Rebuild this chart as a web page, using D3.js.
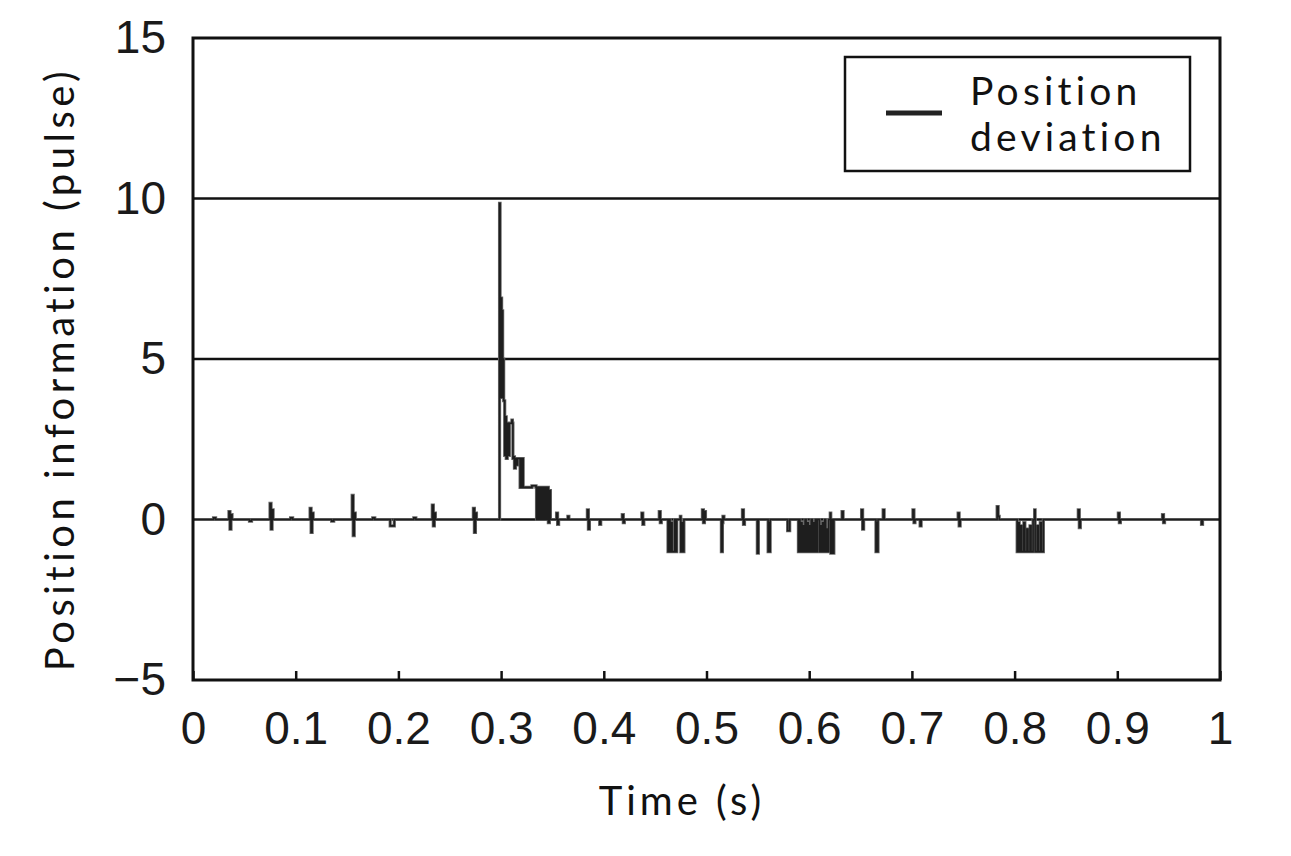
<!DOCTYPE html>
<html>
<head>
<meta charset="utf-8">
<script src="https://cdn.jsdelivr.net/npm/d3@7"></script>
<style>
  body { margin: 0; background: #fff; }
  .tick text { font-family: "Liberation Sans", Arial, sans-serif; fill: #1a1a1a; }
  .title { font-family: Lato, "Noto Sans", sans-serif; fill: #111; }
</style>
</head>
<body>
<div id="chart"></div>
<script>
var svgWidth = 1291;
var svgHeight = 856;

var margin = { top: 38, right: 71, bottom: 176, left: 193 };
var width = svgWidth - margin.left - margin.right;
var height = svgHeight - margin.top - margin.bottom;

// Tick values / labels
var xTicks = [0, 0.1, 0.2, 0.3, 0.4, 0.5, 0.6, 0.7, 0.8, 0.9, 1];
var yTicks = [-5, 0, 5, 10, 15];
var gridValues = [0, 5, 10];
var legendLines = ["Position", "deviation"];

// Position deviation trace: [time (s), deviation (pulse)]
var deviation = [
  [0.000, 0], [0.020, 0.05], [0.022, 0], [0.034, 0],
  [0.035, 0.25], [0.036, -0.3], [0.037, 0.15], [0.038, 0],
  [0.055, -0.05], [0.057, 0],
  [0.074, 0], [0.075, 0.5], [0.076, -0.3], [0.077, 0.3], [0.078, 0],
  [0.095, 0.05], [0.097, 0],
  [0.113, 0], [0.114, 0.35], [0.115, -0.4], [0.116, 0.2], [0.117, 0],
  [0.135, -0.05], [0.137, 0],
  [0.154, 0], [0.155, 0.75], [0.156, -0.5], [0.157, 0.2], [0.158, 0],
  [0.175, 0.05], [0.177, 0],
  [0.190, 0], [0.192, -0.2], [0.196, 0],
  [0.215, 0.05], [0.217, 0],
  [0.232, 0], [0.233, 0.45], [0.234, -0.2], [0.235, 0.2], [0.236, 0],
  [0.272, 0], [0.273, 0.35], [0.274, -0.4], [0.275, 0.2], [0.276, 0],
  // impact at 0.3 s
  [0.298, 0], [0.2985, 9.85], [0.299, 6.9], [0.2995, 3.8], [0.300, 6.9],
  [0.3005, 3.8], [0.301, 6.5], [0.3015, 3.8], [0.302, 5.0], [0.3025, 3.7],
  [0.3035, 2.0], [0.304, 3.2], [0.305, 1.9], [0.306, 3.0], [0.307, 2.0],
  [0.308, 3.0], [0.310, 3.0], [0.3105, 3.1], [0.311, 3.0],
  [0.3115, 1.9], [0.312, 1.95], [0.313, 1.6], [0.314, 1.9], [0.315, 1.7],
  [0.316, 1.9], [0.318, 1.9],
  [0.3185, 1.0], [0.319, 1.9], [0.320, 1.0], [0.321, 1.9], [0.3215, 1.0],
  [0.326, 1.0], [0.330, 1.05], [0.334, 1.0],
  [0.3345, 0], [0.335, 1], [0.336, 0], [0.337, 1], [0.338, 0], [0.339, 1],
  [0.340, 0], [0.341, 1], [0.342, 0], [0.343, 1], [0.344, 0], [0.345, 1],
  [0.346, -0.1], [0.347, 0.9], [0.348, 0],
  [0.354, 0.2], [0.355, -0.15], [0.356, 0],
  [0.365, 0.1], [0.366, 0],
  [0.383, 0], [0.384, 0.3], [0.385, -0.3], [0.386, 0],
  [0.396, -0.15], [0.397, 0],
  [0.418, 0.15], [0.419, -0.1], [0.420, 0],
  [0.437, 0.2], [0.438, -0.15], [0.439, 0],
  [0.454, 0.25], [0.455, -0.1], [0.456, 0],
  [0.462, 0], [0.4625, -1], [0.4635, 0], [0.4645, -1], [0.4655, -0.1],
  [0.4665, -1], [0.468, -1], [0.469, 0], [0.4695, -1], [0.471, 0],
  [0.4745, 0.1], [0.475, -1], [0.476, -0.1], [0.477, -1], [0.478, 0],
  [0.496, 0.3], [0.497, -0.1], [0.498, 0.25], [0.499, 0],
  [0.514, 0], [0.5145, -1], [0.5155, -0.1], [0.516, 0.1], [0.517, 0],
  [0.535, 0.3], [0.536, -0.15], [0.537, 0],
  [0.549, 0], [0.5495, -1.05], [0.5505, 0],
  [0.5595, 0], [0.560, -1.0], [0.5605, -0.1], [0.561, -1.0], [0.562, 0],
  [0.579, -0.35], [0.581, 0],
  [0.589, 0], [0.5895, -1], [0.5905, 0], [0.591, -1], [0.592, -0.1],
  [0.593, -1], [0.594, -0.2], [0.595, -1], [0.596, 0], [0.597, -1],
  [0.598, -0.1], [0.599, -1], [0.600, -0.2], [0.601, -1], [0.602, 0],
  [0.603, -1], [0.604, -0.1], [0.605, -1], [0.606, 0], [0.607, -1], [0.608, 0],
  [0.610, -1], [0.611, -0.2], [0.612, -1], [0.613, -0.1], [0.614, -1],
  [0.615, 0], [0.616, -1], [0.617, -0.3], [0.618, -1], [0.619, 0],
  [0.6205, 0.2], [0.621, -1.05], [0.622, 0], [0.623, -1.05], [0.624, 0],
  [0.632, 0.25], [0.633, 0],
  [0.651, 0.3], [0.652, -0.3], [0.653, 0],
  [0.6645, 0], [0.665, -1], [0.6655, -0.1], [0.666, -1], [0.667, 0],
  [0.672, 0.3], [0.673, 0],
  [0.701, 0.3], [0.702, -0.1], [0.703, 0],
  [0.708, -0.2], [0.709, 0],
  [0.745, 0.2], [0.746, -0.2], [0.747, 0],
  [0.783, 0.4], [0.784, 0.1], [0.785, 0],
  [0.802, 0], [0.8025, -1], [0.8035, -0.1], [0.8045, -1], [0.806, -0.2],
  [0.807, -1], [0.809, -0.1], [0.810, -1], [0.812, -0.3], [0.813, -1],
  [0.815, -0.2], [0.816, -1], [0.818, 0],
  [0.8195, 0.3], [0.820, -1], [0.822, -0.2], [0.823, -1], [0.825, -0.1],
  [0.826, -1], [0.828, 0],
  [0.862, 0.3], [0.863, -0.25], [0.864, 0],
  [0.901, 0.2], [0.902, -0.1], [0.903, 0],
  [0.944, 0.15], [0.945, -0.1], [0.946, 0],
  [0.982, -0.15], [0.983, 0],
  [1.000, 0]
];

var svg = d3.select("#chart")
  .append("svg")
  .attr("width", svgWidth)
  .attr("height", svgHeight);

var chartGroup = svg.append("g")
  .attr("transform", `translate(${margin.left}, ${margin.top})`);

var xScale = d3.scaleLinear().domain([0, 1]).range([0, width]);
var yScale = d3.scaleLinear().domain([-5, 15]).range([height, 0]);

// gridlines at 0, 5, 10
chartGroup.selectAll(".grid")
  .data(gridValues)
  .enter()
  .append("line")
  .attr("x1", 0)
  .attr("x2", width)
  .attr("y1", d => yScale(d))
  .attr("y2", d => yScale(d))
  .attr("stroke", "#111")
  .attr("stroke-width", 2.5);

// the trace: a gray halo under a dark core, drawn as steps like a sampled signal
var line = d3.line()
  .curve(d3.curveStepAfter)
  .x(d => xScale(d[0]))
  .y(d => yScale(d[1]));

chartGroup.append("path")
  .datum(deviation)
  .attr("d", line)
  .attr("fill", "none")
  .attr("stroke", "#6a6a6a")
  .attr("stroke-width", 3.2);

chartGroup.append("path")
  .datum(deviation)
  .attr("d", line)
  .attr("fill", "none")
  .attr("stroke", "#1e1e1e")
  .attr("stroke-width", 1.6);

// axes
var bottomAxis = d3.axisBottom(xScale)
  .tickValues(xTicks)
  .tickSize(-9)
  .tickPadding(31)
  .tickFormat(d => d === 0 || d === 1 ? String(d) : d.toFixed(1));

var leftAxis = d3.axisLeft(yScale)
  .tickValues(yTicks)
  .tickSize(0)
  .tickPadding(27)
  .tickFormat(d => d < 0 ? "\u2212" + Math.abs(d) : String(d));

var xg = chartGroup.append("g")
  .attr("transform", `translate(0, ${height})`)
  .call(bottomAxis);
xg.select(".domain").remove();
xg.selectAll(".tick line").attr("stroke", "#111").attr("stroke-width", 2.5);
xg.selectAll(".tick text").attr("font-size", 46).attr("fill", "#1a1a1a");

var yg = chartGroup.append("g").call(leftAxis);
yg.select(".domain").remove();
yg.selectAll(".tick text").attr("font-size", 46).attr("fill", "#1a1a1a");

// frame
chartGroup.append("rect")
  .attr("x", 0)
  .attr("y", 0)
  .attr("width", width)
  .attr("height", height)
  .attr("fill", "none")
  .attr("stroke", "#111")
  .attr("stroke-width", 3);

// axis titles
chartGroup.append("text")
  .attr("class", "title")
  .attr("transform", "rotate(-90)")
  .attr("x", -(yScale(5) + 10))
  .attr("y", 74 - margin.left)
  .attr("text-anchor", "middle")
  .attr("font-size", 40)
  .attr("letter-spacing", 4.5)
  .text("Position information (pulse)");

chartGroup.append("text")
  .attr("class", "title")
  .attr("x", xScale(0.476))
  .attr("y", height + 135)
  .attr("text-anchor", "middle")
  .attr("font-size", 40)
  .attr("letter-spacing", 4)
  .text("Time (s)");

// legend
var legend = svg.append("g")
  .attr("transform", "translate(845, 57)");

legend.append("rect")
  .attr("width", 345)
  .attr("height", 114)
  .attr("fill", "#fff")
  .attr("stroke", "#111")
  .attr("stroke-width", 2.5);

legend.append("line")
  .attr("x1", 41)
  .attr("x2", 97)
  .attr("y1", 56)
  .attr("y2", 56)
  .attr("stroke", "#222")
  .attr("stroke-width", 5);

legend.selectAll(".legendText")
  .data(legendLines)
  .enter()
  .append("text")
  .attr("class", "title")
  .attr("x", 125)
  .attr("y", (d, i) => 48 + i * 46)
  .attr("font-size", 39)
  .attr("letter-spacing", 4.2)
  .text(d => d);
</script>
</body>
</html>
